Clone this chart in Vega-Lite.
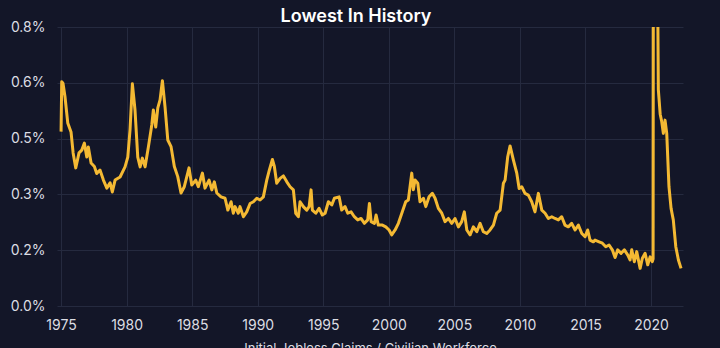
{
  "$schema": "https://vega.github.io/schema/vega-lite/v6.json",
  "width": 626,
  "height": 279,
  "autosize": "none",
  "padding": {"left": 57, "top": 27, "right": 37, "bottom": 42},
  "background": "#131628",
  "title": {"text": "Lowest In History", "color": "#ffffff", "font": "Inter", "fontSize": 18, "fontWeight": 600, "offset": -6, "anchor": "middle", "dx": -14},
  "config": {
    "view": {"stroke": null},
    "axis": {
      "domain": false,
      "ticks": false,
      "gridColor": "#252a3f",
      "gridWidth": 1,
      "labelColor": "#dcdde3",
      "labelFont": "Inter",
      "labelFontSize": 14,
      "titleColor": "#dcdde3",
      "titleFont": "Inter",
      "titleFontSize": 13,
      "titleFontWeight": "normal"
    }
  },
  "data": {"values": [
    {"year": 1975.00, "pct": 0.50},
    {"year": 1975.05, "pct": 0.643},
    {"year": 1975.15, "pct": 0.638},
    {"year": 1975.30, "pct": 0.60},
    {"year": 1975.51, "pct": 0.525},
    {"year": 1975.76, "pct": 0.499},
    {"year": 1975.92, "pct": 0.439},
    {"year": 1976.12, "pct": 0.396},
    {"year": 1976.37, "pct": 0.439},
    {"year": 1976.58, "pct": 0.447},
    {"year": 1976.78, "pct": 0.467},
    {"year": 1976.96, "pct": 0.427},
    {"year": 1977.08, "pct": 0.456},
    {"year": 1977.29, "pct": 0.41},
    {"year": 1977.54, "pct": 0.40},
    {"year": 1977.72, "pct": 0.38},
    {"year": 1977.97, "pct": 0.39},
    {"year": 1978.23, "pct": 0.361},
    {"year": 1978.49, "pct": 0.338},
    {"year": 1978.74, "pct": 0.353},
    {"year": 1978.91, "pct": 0.327},
    {"year": 1979.12, "pct": 0.361},
    {"year": 1979.50, "pct": 0.370},
    {"year": 1979.88, "pct": 0.399},
    {"year": 1980.09, "pct": 0.427},
    {"year": 1980.26, "pct": 0.505},
    {"year": 1980.44, "pct": 0.637},
    {"year": 1980.64, "pct": 0.562},
    {"year": 1980.85, "pct": 0.427},
    {"year": 1981.03, "pct": 0.399},
    {"year": 1981.20, "pct": 0.424},
    {"year": 1981.41, "pct": 0.399},
    {"year": 1981.66, "pct": 0.456},
    {"year": 1981.92, "pct": 0.519},
    {"year": 1982.04, "pct": 0.562},
    {"year": 1982.22, "pct": 0.513},
    {"year": 1982.38, "pct": 0.568},
    {"year": 1982.55, "pct": 0.591},
    {"year": 1982.73, "pct": 0.646},
    {"year": 1982.93, "pct": 0.571},
    {"year": 1983.14, "pct": 0.476},
    {"year": 1983.39, "pct": 0.457},
    {"year": 1983.64, "pct": 0.40},
    {"year": 1983.90, "pct": 0.371},
    {"year": 1984.15, "pct": 0.324},
    {"year": 1984.40, "pct": 0.342},
    {"year": 1984.76, "pct": 0.396},
    {"year": 1984.97, "pct": 0.347},
    {"year": 1985.27, "pct": 0.361},
    {"year": 1985.47, "pct": 0.342},
    {"year": 1985.78, "pct": 0.381},
    {"year": 1985.98, "pct": 0.338},
    {"year": 1986.29, "pct": 0.361},
    {"year": 1986.50, "pct": 0.333},
    {"year": 1986.69, "pct": 0.356},
    {"year": 1986.88, "pct": 0.324},
    {"year": 1987.20, "pct": 0.313},
    {"year": 1987.51, "pct": 0.309},
    {"year": 1987.72, "pct": 0.275},
    {"year": 1987.97, "pct": 0.299},
    {"year": 1988.14, "pct": 0.266},
    {"year": 1988.27, "pct": 0.285},
    {"year": 1988.52, "pct": 0.266},
    {"year": 1988.65, "pct": 0.285},
    {"year": 1988.91, "pct": 0.256},
    {"year": 1989.16, "pct": 0.270},
    {"year": 1989.42, "pct": 0.294},
    {"year": 1989.67, "pct": 0.299},
    {"year": 1989.93, "pct": 0.309},
    {"year": 1990.18, "pct": 0.304},
    {"year": 1990.43, "pct": 0.313},
    {"year": 1990.69, "pct": 0.361},
    {"year": 1990.89, "pct": 0.39},
    {"year": 1991.12, "pct": 0.42},
    {"year": 1991.27, "pct": 0.40},
    {"year": 1991.45, "pct": 0.352},
    {"year": 1991.71, "pct": 0.366},
    {"year": 1991.96, "pct": 0.373},
    {"year": 1992.22, "pct": 0.356},
    {"year": 1992.47, "pct": 0.342},
    {"year": 1992.72, "pct": 0.333},
    {"year": 1992.90, "pct": 0.266},
    {"year": 1993.10, "pct": 0.256},
    {"year": 1993.23, "pct": 0.299},
    {"year": 1993.48, "pct": 0.285},
    {"year": 1993.74, "pct": 0.275},
    {"year": 1993.92, "pct": 0.285},
    {"year": 1994.07, "pct": 0.333},
    {"year": 1994.17, "pct": 0.275},
    {"year": 1994.43, "pct": 0.266},
    {"year": 1994.68, "pct": 0.28},
    {"year": 1994.93, "pct": 0.261},
    {"year": 1995.14, "pct": 0.266},
    {"year": 1995.39, "pct": 0.299},
    {"year": 1995.65, "pct": 0.29},
    {"year": 1995.85, "pct": 0.309},
    {"year": 1996.21, "pct": 0.313},
    {"year": 1996.41, "pct": 0.275},
    {"year": 1996.66, "pct": 0.285},
    {"year": 1996.87, "pct": 0.266},
    {"year": 1997.12, "pct": 0.270},
    {"year": 1997.37, "pct": 0.256},
    {"year": 1997.63, "pct": 0.247},
    {"year": 1997.88, "pct": 0.251},
    {"year": 1998.14, "pct": 0.237},
    {"year": 1998.39, "pct": 0.247},
    {"year": 1998.52, "pct": 0.294},
    {"year": 1998.65, "pct": 0.242},
    {"year": 1998.90, "pct": 0.237},
    {"year": 1999.03, "pct": 0.261},
    {"year": 1999.20, "pct": 0.232},
    {"year": 1999.51, "pct": 0.232},
    {"year": 1999.77, "pct": 0.227},
    {"year": 2000.02, "pct": 0.218},
    {"year": 2000.22, "pct": 0.204},
    {"year": 2000.48, "pct": 0.218},
    {"year": 2000.73, "pct": 0.237},
    {"year": 2001.03, "pct": 0.270},
    {"year": 2001.29, "pct": 0.299},
    {"year": 2001.49, "pct": 0.304},
    {"year": 2001.75, "pct": 0.381},
    {"year": 2001.87, "pct": 0.333},
    {"year": 2002.00, "pct": 0.361},
    {"year": 2002.21, "pct": 0.352},
    {"year": 2002.38, "pct": 0.299},
    {"year": 2002.64, "pct": 0.309},
    {"year": 2002.82, "pct": 0.285},
    {"year": 2003.07, "pct": 0.313},
    {"year": 2003.32, "pct": 0.323},
    {"year": 2003.53, "pct": 0.309},
    {"year": 2003.78, "pct": 0.28},
    {"year": 2004.04, "pct": 0.266},
    {"year": 2004.29, "pct": 0.242},
    {"year": 2004.54, "pct": 0.251},
    {"year": 2004.80, "pct": 0.237},
    {"year": 2005.05, "pct": 0.251},
    {"year": 2005.31, "pct": 0.227},
    {"year": 2005.56, "pct": 0.242},
    {"year": 2005.76, "pct": 0.270},
    {"year": 2005.95, "pct": 0.218},
    {"year": 2006.20, "pct": 0.204},
    {"year": 2006.45, "pct": 0.227},
    {"year": 2006.71, "pct": 0.213},
    {"year": 2006.96, "pct": 0.237},
    {"year": 2007.21, "pct": 0.213},
    {"year": 2007.47, "pct": 0.208},
    {"year": 2007.72, "pct": 0.218},
    {"year": 2007.98, "pct": 0.232},
    {"year": 2008.23, "pct": 0.266},
    {"year": 2008.49, "pct": 0.275},
    {"year": 2008.74, "pct": 0.352},
    {"year": 2008.87, "pct": 0.361},
    {"year": 2009.07, "pct": 0.428},
    {"year": 2009.25, "pct": 0.459},
    {"year": 2009.50, "pct": 0.419},
    {"year": 2009.76, "pct": 0.381},
    {"year": 2009.94, "pct": 0.337},
    {"year": 2010.14, "pct": 0.342},
    {"year": 2010.39, "pct": 0.323},
    {"year": 2010.64, "pct": 0.318},
    {"year": 2010.90, "pct": 0.299},
    {"year": 2011.15, "pct": 0.270},
    {"year": 2011.41, "pct": 0.323},
    {"year": 2011.67, "pct": 0.275},
    {"year": 2011.92, "pct": 0.266},
    {"year": 2012.17, "pct": 0.251},
    {"year": 2012.43, "pct": 0.256},
    {"year": 2012.68, "pct": 0.251},
    {"year": 2012.93, "pct": 0.247},
    {"year": 2013.19, "pct": 0.256},
    {"year": 2013.44, "pct": 0.232},
    {"year": 2013.69, "pct": 0.227},
    {"year": 2013.95, "pct": 0.237},
    {"year": 2014.21, "pct": 0.218},
    {"year": 2014.46, "pct": 0.232},
    {"year": 2014.72, "pct": 0.208},
    {"year": 2014.97, "pct": 0.199},
    {"year": 2015.17, "pct": 0.218},
    {"year": 2015.35, "pct": 0.189},
    {"year": 2015.60, "pct": 0.184},
    {"year": 2015.73, "pct": 0.189},
    {"year": 2016.04, "pct": 0.184},
    {"year": 2016.29, "pct": 0.18},
    {"year": 2016.55, "pct": 0.17},
    {"year": 2016.80, "pct": 0.175},
    {"year": 2017.05, "pct": 0.161},
    {"year": 2017.26, "pct": 0.139},
    {"year": 2017.46, "pct": 0.161},
    {"year": 2017.72, "pct": 0.151},
    {"year": 2017.97, "pct": 0.161},
    {"year": 2018.23, "pct": 0.146},
    {"year": 2018.40, "pct": 0.132},
    {"year": 2018.53, "pct": 0.161},
    {"year": 2018.73, "pct": 0.127},
    {"year": 2018.91, "pct": 0.156},
    {"year": 2019.17, "pct": 0.108},
    {"year": 2019.34, "pct": 0.137},
    {"year": 2019.55, "pct": 0.151},
    {"year": 2019.75, "pct": 0.118},
    {"year": 2019.93, "pct": 0.141},
    {"year": 2020.10, "pct": 0.127},
    {"year": 2020.16, "pct": 0.135},
    {"year": 2020.24, "pct": 4.0},
    {"year": 2020.33, "pct": 2.2},
    {"year": 2020.45, "pct": 1.2},
    {"year": 2020.56, "pct": 0.62},
    {"year": 2020.70, "pct": 0.55},
    {"year": 2020.81, "pct": 0.53},
    {"year": 2020.94, "pct": 0.495},
    {"year": 2021.07, "pct": 0.533},
    {"year": 2021.20, "pct": 0.495},
    {"year": 2021.37, "pct": 0.342},
    {"year": 2021.53, "pct": 0.28},
    {"year": 2021.70, "pct": 0.247},
    {"year": 2021.89, "pct": 0.17},
    {"year": 2022.09, "pct": 0.132},
    {"year": 2022.29, "pct": 0.108}
  ]},
  "mark": {"type": "line", "color": "#f4b933", "strokeWidth": 3, "clip": true, "strokeJoin": "round"},
  "encoding": {
    "x": {
      "field": "year",
      "type": "quantitative",
      "scale": {"domain": [1974.69, 2022.44], "nice": false, "zero": false},
      "axis": {
        "values": [1975, 1980, 1985, 1990, 1995, 2000, 2005, 2010, 2015, 2020],
        "format": "d",
        "labelPadding": 12,
        "title": "Initial Jobless Claims / Civilian Workforce",
        "titlePadding": 10
      }
    },
    "y": {
      "field": "pct",
      "type": "quantitative",
      "scale": {"domain": [0, 0.8], "nice": false},
      "axis": {
        "values": [0, 0.16, 0.32, 0.48, 0.64, 0.8],
        "labelExpr": "format(datum.value, '.1f') + '%'",
        "labelPadding": 12,
        "title": null
      }
    }
  }
}
